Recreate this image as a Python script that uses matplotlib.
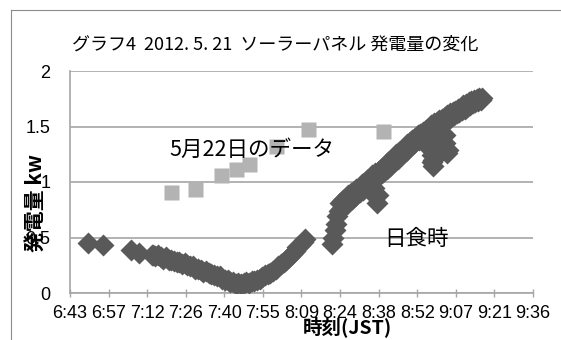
import matplotlib
matplotlib.use("Agg")
import matplotlib.pyplot as plt
from matplotlib.lines import Line2D
import numpy as np
import pandas as pd

plt.rcParams['font.family'] = ['Noto Sans CJK JP', 'DejaVu Sans']

title = "グラフ4  2012. 5. 21  ソーラーパネル 発電量の変化"
x_label = "時刻(JST)"
y_label = "発電量 kw"
x_tick_labels = ["6:43", "6:57", "7:12", "7:26", "7:40", "7:55", "8:09",
                 "8:24", "8:38", "8:52", "9:07", "9:21", "9:36"]
y_ticks = [0, 0.5, 1, 1.5, 2]
y_tick_labels = ["0", "0.5", "1", "1.5", "2"]
note_ref = "5月22日のデータ"
note_eclipse = "日食時"

# 2012-05-21 (eclipse morning) panel output
eclipse_times = [
    "6:50", "6:55:40", "7:06", "7:09", "7:13:40",
    "7:14", "7:15", "7:16", "7:17", "7:18", "7:19", "7:20", "7:21", "7:22", "7:23",
    "7:24", "7:25", "7:26", "7:27", "7:28", "7:29", "7:30", "7:31", "7:32", "7:33",
    "7:34", "7:35", "7:36", "7:37", "7:38", "7:39", "7:40", "7:41", "7:42", "7:43",
    "7:44", "7:45", "7:46", "7:47", "7:48", "7:49", "7:50", "7:51", "7:52", "7:53",
    "7:54", "7:55", "7:56", "7:57", "7:58", "7:59", "8:00", "8:01", "8:02", "8:03",
    "8:04", "8:05", "8:06", "8:07", "8:08", "8:09", "8:10", "8:11",
    "8:21", "8:21:30", "8:22", "8:22:30", "8:23", "8:23:30", "8:24", "8:24:30",
    "8:25", "8:25:30", "8:26", "8:26:30", "8:27", "8:27:30", "8:28", "8:28:30",
    "8:29", "8:29:30", "8:30", "8:30:30", "8:31", "8:31:30", "8:32", "8:32:30",
    "8:33", "8:33:30", "8:34", "8:34:30", "8:35", "8:35:30", "8:36", "8:36:30",
    "8:36:40", "8:37", "8:37:10", "8:37:30", "8:37:40", "8:38", "8:38:10", "8:38:30",
    "8:39", "8:39:30", "8:40", "8:40:30", "8:41", "8:41:30", "8:42", "8:42:30",
    "8:43", "8:43:30", "8:44", "8:44:30", "8:45", "8:45:30", "8:46", "8:46:30",
    "8:47", "8:47:30", "8:48", "8:48:30", "8:49", "8:49:30", "8:50", "8:50:30",
    "8:51", "8:51:30", "8:52", "8:52:30", "8:53", "8:53:30", "8:54", "8:54:30",
    "8:55", "8:55:30", "8:56", "8:56:30", "8:57", "8:57:20", "8:57:30", "8:57:40",
    "8:58", "8:58:10", "8:58:20", "8:58:30", "8:58:40", "8:58:50", "8:59", "8:59:30",
    "9:00", "9:00:30", "9:01", "9:01:30", "9:02", "9:02:30", "9:03", "9:03:10",
    "9:03:20", "9:03:30", "9:03:40", "9:03:50", "9:04", "9:04:10", "9:04:30", "9:05",
    "9:05:30", "9:06", "9:06:30", "9:07", "9:07:30", "9:08", "9:08:30", "9:09",
    "9:09:30", "9:10", "9:10:30", "9:11", "9:11:30", "9:12", "9:12:30", "9:13",
    "9:13:30", "9:14", "9:14:30", "9:15", "9:15:30", "9:16", "9:16:30", "9:17",
]
eclipse_kw = [
    0.45, 0.43, 0.39, 0.36, 0.34,
    0.34, 0.33, 0.34, 0.32, 0.31, 0.32, 0.30, 0.30, 0.29, 0.28,
    0.28, 0.26, 0.27, 0.25, 0.24, 0.24, 0.22, 0.22, 0.21, 0.19,
    0.20, 0.18, 0.17, 0.16, 0.15, 0.15, 0.13, 0.12, 0.12, 0.10,
    0.10, 0.08, 0.09, 0.08, 0.09, 0.10, 0.09, 0.11, 0.11, 0.12,
    0.13, 0.14, 0.16, 0.17, 0.18, 0.20, 0.22, 0.24, 0.26, 0.28,
    0.30, 0.32, 0.35, 0.38, 0.41, 0.43, 0.46, 0.49,
    0.44, 0.50, 0.57, 0.62, 0.69, 0.74, 0.81, 0.76,
    0.84, 0.79, 0.85, 0.80, 0.88, 0.83, 0.90, 0.85,
    0.91, 0.87, 0.94, 0.89, 0.95, 0.91, 0.98, 0.93,
    0.99, 0.96, 1.02, 0.98, 1.04, 1.00, 1.06, 1.02,
    0.95, 1.08, 0.87, 1.04, 0.81, 1.09, 0.88, 1.06,
    1.11, 1.08, 1.13, 1.10, 1.16, 1.12, 1.18, 1.14,
    1.20, 1.17, 1.22, 1.19, 1.25, 1.21, 1.27, 1.24,
    1.29, 1.26, 1.31, 1.28, 1.34, 1.30, 1.36, 1.33,
    1.38, 1.35, 1.40, 1.37, 1.42, 1.38, 1.43, 1.40,
    1.45, 1.42, 1.47, 1.44, 1.49, 1.38, 1.46, 1.30,
    1.51, 1.24, 1.18, 1.48, 1.14, 1.20, 1.53, 1.50,
    1.54, 1.51, 1.56, 1.53, 1.57, 1.54, 1.59, 1.42,
    1.35, 1.56, 1.30, 1.26, 1.60, 1.29, 1.57, 1.62,
    1.59, 1.63, 1.60, 1.64, 1.62, 1.66, 1.63, 1.67,
    1.65, 1.69, 1.66, 1.70, 1.68, 1.72, 1.69, 1.73,
    1.71, 1.74, 1.72, 1.75, 1.73, 1.76, 1.74, 1.76,
]

# 2012-05-22 readings for comparison
ref_times = ["7:21", "7:30", "7:39:30", "7:45", "7:50", "8:00", "8:12", "8:40"]
ref_kw = [0.91, 0.94, 1.06, 1.12, 1.16, 1.32, 1.48, 1.46]


def day_fraction(labels):
    """Clock strings -> fraction of a day (spreadsheet time serial)."""
    td = pd.to_timedelta([t if t.count(":") == 2 else t + ":00" for t in labels])
    return np.asarray(td.total_seconds()) / 86400.0


W, H = 561, 340
fig = plt.figure(figsize=(W / 100, H / 100), dpi=100)

# chart-area border
border = "#8c8c8c"
fig.add_artist(Line2D([10.5 / W, 10.5 / W], [0, 1 - 9.5 / H], transform=fig.transFigure,
                      color=border, lw=0.8))
fig.add_artist(Line2D([10.5 / W, 1], [1 - 9.5 / H, 1 - 9.5 / H], transform=fig.transFigure,
                      color=border, lw=0.8))

ax = fig.add_axes([70 / W, 1 - 293 / H, (533 - 70) / W, (293 - 71) / H])

grid = "#a6a6a6"
num_font = ['Liberation Sans', 'DejaVu Sans']
ax.set_xlim(0.28, 0.40)
ax.set_ylim(0, 2)
ax.set_xticks(np.linspace(0.28, 0.40, len(x_tick_labels)))
ax.set_xticklabels(x_tick_labels, family=num_font)
ax.set_yticks(y_ticks)
ax.set_yticklabels(y_tick_labels, family=num_font)
ax.yaxis.grid(True, color=grid, lw=1.2)
ax.set_axisbelow(True)
for side in ("top", "right"):
    ax.spines[side].set_visible(False)
for side in ("left", "bottom"):
    ax.spines[side].set_color(grid)
    ax.spines[side].set_linewidth(1.2)
ax.tick_params(axis="x", direction="inout", length=6, width=1, color=grid,
               labelsize=13, pad=6)
ax.tick_params(axis="y", length=0, labelsize=13, pad=14)

ax.plot(day_fraction(ref_times), ref_kw, ls="none", marker="s", ms=10.8,
        mfc="#b3b3b3", mec="none", zorder=3)
ax.plot(day_fraction(eclipse_times), eclipse_kw, ls="none", marker="D", ms=10.8,
        mfc="#595959", mec="none", zorder=3)

ax.text(0.393, 0.644, note_ref, transform=ax.transAxes, ha="center", va="center",
        fontsize=15.5, zorder=5)
ax.text(0.749, 0.243, note_eclipse, transform=ax.transAxes, ha="center", va="center",
        fontsize=15.5, zorder=5)

fig.text(275 / W, 1 - 45 / H, title, ha="center", va="center", fontsize=13)
fig.text(347 / W, 1 - 327 / H, x_label, ha="center", va="center", fontsize=14,
         fontweight="bold")
fig.text(35 / W, 1 - 203 / H, y_label, ha="center", va="center", rotation=90,
         fontsize=15, fontweight="bold")

fig.savefig("out.png", dpi=100)
